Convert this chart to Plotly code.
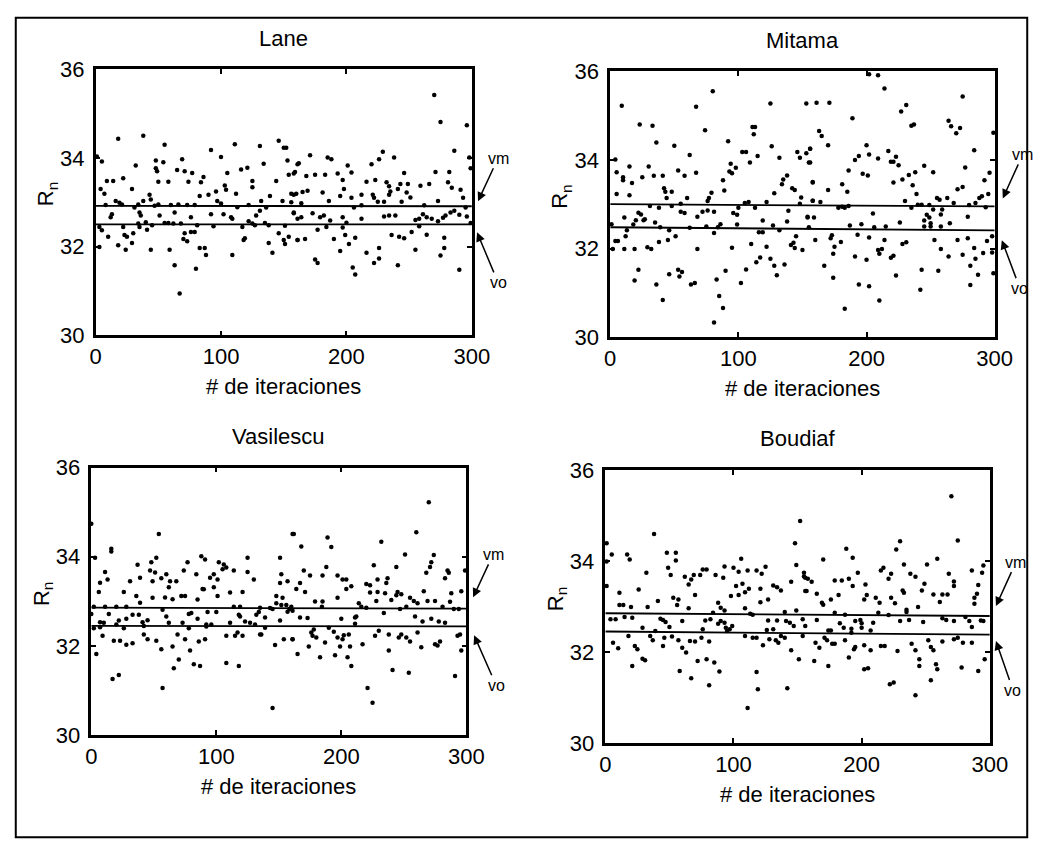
import plotly.graph_objects as go

W, H = 1055, 855
FONT = "Arial, Liberation Sans, sans-serif"

# ---------------- data ----------------
titles = ["Lane", "Mitama", "Vasilescu", "Boudiaf"]
x_ticks = [0, 100, 200, 300]
y_ticks = [30, 32, 34, 36]
x_title = "# de iteraciones"
y_title = "R<sub>n</sub>"
line_labels = ["vm", "vo"]

lane_points = [
    (18,34.43),(38,34.50),(55,34.30),(92,34.18),(111,34.31),(131,34.27),(146,34.39),(150,34.23),(152,34.23),(100,34.02),
    (69,33.97),(48,33.94),(54,33.90),(5,33.92),(1,34.03),(32,33.83),(134,33.87),(153,33.94),(161,33.86),(48,33.77),
    (49,33.70),(65,33.73),(71,33.70),(77,33.66),(116,33.74),(121,33.78),(105,33.66),(159,33.68),(154,33.62),(9,33.48),
    (14,33.48),(22,33.54),(50,33.46),(58,33.46),(74,33.46),(84,33.45),(86,33.57),(125,33.48),(144,33.48),(4,33.30),
    (29,33.30),(103,33.38),(104,33.28),(125,33.34),(7,33.19),(43,33.17),(90,33.17),(96,33.24),(112,33.19),(83,33.14),
    (156,33.19),(160,33.19),(139,33.14),(44,33.06),(16,33.03),(19,32.99),(34,32.95),(38,33.03),(50,32.95),(97,33.03),
    (100,32.97),(132,33.03),(149,33.03),(156,33.00),(8,32.94),(21,32.95),(31,32.88),(47,32.92),(60,32.94),(66,32.95),
    (73,32.94),(79,32.94),(113,32.89),(122,32.94),(136,32.88),(13,32.73),(12,32.66),(35,32.77),(36,32.70),(51,32.70),
    (63,32.77),(76,32.66),(92,32.73),(102,32.73),(108,32.66),(109,32.63),(128,32.70),(131,32.81),(158,32.75),(161,32.63),
    (34,32.52),(40,32.55),(55,32.53),(58,32.53),(62,32.52),(68,32.52),(122,32.57),(125,32.52),(135,32.53),(3,32.44),
    (5,32.37),(22,32.44),(35,32.44),(41,32.38),(45,32.48),(81,32.48),(94,32.46),(117,32.44),(127,32.48),(138,32.48),
    (151,32.47),(10,32.22),(23,32.26),(25,32.22),(30,32.30),(18,32.03),(24,31.93),(29,32.08),(71,32.30),(76,32.33),
    (79,32.33),(70,32.17),(73,32.12),(118,32.15),(119,32.19),(3,31.99),(44,31.93),(59,31.93),(83,31.97),(87,31.97),
    (88,31.81),(109,31.81),(138,32.08),(141,31.86),(146,32.30),(150,32.15),(151,32.06),(154,32.22),(161,32.15),(63,31.58),
    (80,31.50),(67,30.94),
    (270,35.42),(275,34.81),(296,34.74),(286,34.16),(298,34.01),(299,33.77),(171,34.06),(162,33.88),(185,34.01),(188,33.97),
    (229,34.14),(226,33.97),(220,33.86),(238,34.01),(201,33.83),(204,33.67),(158,33.65),(168,33.59),(175,33.62),(183,33.62),
    (193,33.65),(197,33.50),(246,33.66),(271,33.68),(282,33.68),(216,33.46),(223,33.50),(232,33.45),(243,33.41),(249,33.41),
    (234,33.36),(241,33.30),(259,33.37),(266,33.41),(281,33.45),(284,33.33),(291,33.28),(158,33.17),(165,33.23),(169,33.26),
    (181,33.22),(198,33.30),(195,33.14),(204,33.10),(212,33.17),(221,33.17),(222,33.10),(234,33.17),(235,33.24),(248,33.22),
    (251,33.11),(273,33.03),(293,33.10),(186,33.03),(164,32.98),(225,33.01),(230,33.01),(244,33.01),(206,32.88),(212,32.93),
    (262,32.93),(295,32.88),(158,32.77),(164,32.66),(173,32.75),(179,32.66),(182,32.70),(187,32.59),(197,32.66),(212,32.63),
    (230,32.68),(234,32.70),(239,32.70),(255,32.60),(258,32.63),(261,32.73),(264,32.66),(268,32.63),(273,32.57),(277,32.65),
    (279,32.70),(283,32.77),(286,32.81),(290,32.72),(296,32.68),(200,32.54),(258,32.46),(299,32.53),(177,32.38),(184,32.44),
    (197,32.43),(161,32.15),(167,32.17),(190,32.17),(199,32.26),(202,32.06),(207,32.20),(236,32.26),(242,32.22),(246,32.19),
    (252,32.33),(264,32.27),(278,32.20),(278,31.97),(275,31.80),(255,31.93),(226,31.97),(226,31.73),(222,31.63),(216,31.86),
    (195,31.90),(175,31.71),(177,31.63),(205,31.53),(207,31.37),(241,31.58),(290,31.48),
]

mitama_points = [
    (80,35.55),(9,35.22),(67,35.20),(125,35.27),(153,35.27),(23,34.80),(33,34.77),(74,34.67),(111,34.74),(113,34.74),
    (112,34.58),(36,34.39),(50,34.32),(92,34.42),(126,34.31),(62,34.11),(4,34.01),(103,34.18),(106,34.18),(115,34.09),
    (132,34.05),(146,34.18),(148,34.05),(156,34.25),(153,34.15),(109,33.94),(155,33.94),(5,33.72),(15,33.85),(10,33.61),
    (10,33.54),(17,33.48),(25,33.61),(30,33.85),(34,33.64),(41,33.64),(53,33.76),(58,33.64),(67,33.71),(94,33.91),
    (93,33.74),(95,33.70),(98,33.82),(88,33.54),(135,33.56),(138,33.65),(134,33.45),(142,33.36),(144,33.32),(158,33.50),
    (5,33.23),(15,33.20),(42,33.36),(43,33.28),(48,33.28),(44,33.14),(60,33.14),(79,33.26),(77,33.14),(89,33.31),
    (76,33.07),(128,33.25),(149,33.15),(158,33.08),(31,32.96),(48,32.96),(55,33.01),(105,33.03),(108,33.05),(122,33.05),
    (148,33.01),(11,32.70),(22,32.81),(24,32.77),(26,32.64),(27,32.66),(20,32.64),(38,32.92),(35,32.59),(55,32.83),
    (58,32.80),(68,32.72),(72,32.83),(76,32.86),(81,32.83),(96,32.80),(99,32.76),(99,32.54),(100,32.92),(113,32.92),
    (119,32.63),(139,32.85),(138,32.61),(154,32.70),(1,32.55),(18,32.54),(39,32.48),(62,32.47),(75,32.50),(86,32.55),
    (84,32.48),(127,32.52),(155,32.48),(13,32.41),(12,32.28),(4,32.17),(6,32.17),(2,31.99),(11,31.99),(19,31.99),
    (29,32.03),(32,31.99),(38,32.15),(45,32.19),(46,32.41),(51,32.28),(68,31.99),(81,32.35),(95,32.02),(110,32.10),
    (116,32.37),(119,32.37),(122,32.04),(125,31.77),(128,31.61),(130,31.40),(136,31.64),(132,32.41),(141,32.08),(143,32.13),
    (145,32.28),(144,32.01),(150,31.97),(114,31.69),(117,31.80),(106,31.53),(102,31.22),(90,31.50),(83,31.30),(85,30.93),
    (88,30.66),(81,30.33),(22,31.52),(19,31.28),(36,31.19),(41,30.84),(46,31.42),(53,31.52),(54,31.37),(56,31.47),
    (63,31.19),(66,31.22),
    (202,35.93),(209,35.91),(214,35.61),(161,35.29),(171,35.29),(275,35.43),(231,35.24),(227,35.09),(189,34.94),(235,34.77),
    (237,34.80),(264,34.88),(266,34.76),(270,34.60),(273,34.72),(163,34.65),(165,34.54),(170,34.33),(200,34.33),(156,34.25),
    (202,34.12),(191,34.00),(194,34.09),(209,34.03),(217,34.20),(219,33.96),(221,33.96),(223,34.07),(225,33.88),(284,34.22),
    (277,33.83),(299,34.61),(156,33.94),(186,33.76),(197,33.69),(201,33.65),(245,33.87),(252,33.72),(238,33.72),(233,33.66),
    (228,33.56),(221,33.49),(236,33.43),(296,33.71),(292,33.54),(158,33.49),(181,33.45),(185,33.28),(170,33.32),(271,33.34),
    (275,33.39),(239,33.23),(295,33.23),(290,33.18),(288,33.14),(255,33.14),(257,33.10),(263,33.14),(158,33.08),(164,33.05),
    (178,32.92),(181,32.94),(183,32.92),(186,32.96),(230,33.07),(235,32.92),(240,32.99),(243,32.99),(249,32.98),(252,32.88),
    (259,32.88),(268,33.03),(280,32.98),(285,33.03),(293,32.93),(154,32.72),(159,32.70),(205,32.79),(247,32.76),(249,32.70),
    (245,32.63),(250,32.57),(258,32.77),(265,32.57),(279,32.72),(226,32.59),(187,32.52),(196,32.55),(206,32.48),(215,32.50),
    (245,32.50),(250,32.50),(258,32.50),(160,32.19),(173,32.30),(172,32.23),(180,32.15),(175,32.04),(174,31.88),(193,32.31),
    (202,32.25),(214,32.19),(209,31.97),(212,31.99),(191,31.82),(200,31.75),(221,31.84),(219,31.79),(228,32.10),(231,32.14),
    (210,31.88),(223,31.39),(210,30.83),(183,30.64),(167,31.61),(174,31.34),(194,31.19),(202,31.15),(243,31.52),(242,31.07),
    (253,32.19),(258,31.99),(264,31.82),(256,31.50),(271,32.19),(279,32.23),(275,31.86),(284,32.01),(285,31.77),(281,31.61),
    (287,31.41),(281,31.18),(291,31.90),(294,32.17),(298,32.28),(298,31.91),(299,31.44),
]

vasilescu_points = [
    (0,34.74),(54,34.51),(161,34.51),(16,34.18),(16,34.12),(3,33.98),(52,33.98),(48,33.88),(88,34.01),(91,33.94),
    (77,33.88),(102,33.88),(106,33.83),(108,33.76),(105,33.72),(125,33.98),(151,33.98),(37,33.82),(11,33.66),(13,33.49),
    (7,33.42),(47,33.69),(51,33.65),(39,33.53),(31,33.45),(49,33.45),(56,33.52),(60,33.61),(63,33.45),(68,33.45),
    (62,33.32),(74,33.69),(84,33.61),(89,33.28),(95,33.53),(98,33.61),(101,33.49),(98,33.32),(114,33.69),(125,33.66),
    (130,33.49),(152,33.61),(151,33.41),(157,33.45),(6,33.21),(26,33.21),(36,33.12),(49,33.08),(59,33.09),(65,33.05),
    (72,33.12),(75,33.12),(85,33.04),(90,33.27),(101,33.12),(111,33.20),(121,33.21),(148,33.12),(153,33.08),(39,32.97),
    (148,32.96),(152,32.92),(156,32.92),(2,32.88),(11,32.88),(20,32.88),(28,32.88),(114,32.88),(119,32.88),(135,32.86),
    (143,32.85),(160,32.88),(0,32.72),(14,32.72),(7,32.53),(10,32.52),(22,32.57),(20,32.48),(28,32.61),(33,32.70),
    (41,32.53),(45,32.58),(38,32.70),(57,32.81),(60,32.66),(62,32.52),(73,32.52),(78,32.72),(80,32.74),(85,32.61),
    (92,32.48),(93,32.76),(100,32.76),(96,32.48),(111,32.52),(119,32.66),(118,32.70),(123,32.55),(127,32.52),(131,32.48),
    (134,32.76),(132,32.70),(139,32.64),(145,32.83),(151,32.57),(157,32.77),(161,32.79),(2,32.40),(7,32.42),(26,32.40),
    (42,32.45),(78,32.40),(92,32.44),(139,32.41),(9,32.23),(18,32.12),(23,32.12),(28,32.03),(33,32.06),(42,32.26),
    (45,32.15),(52,32.12),(56,31.93),(65,31.99),(69,32.26),(75,32.15),(79,31.90),(86,32.10),(91,32.15),(108,32.23),
    (115,32.23),(117,32.30),(121,32.23),(135,32.26),(136,32.26),(147,32.02),(154,32.15),(161,32.15),(4,31.82),(70,31.70),
    (66,31.50),(82,31.59),(87,31.55),(108,31.62),(118,31.55),(17,31.26),(22,31.35),(57,31.06),(145,30.61),
    (270,35.22),(260,34.55),(162,34.51),(189,34.43),(168,34.23),(192,34.22),(232,34.34),(251,34.05),(274,34.04),(226,33.81),
    (244,33.77),(272,33.88),(271,33.77),(268,33.64),(188,33.77),(170,33.69),(175,33.58),(185,33.58),(197,33.58),(201,33.49),
    (204,33.49),(220,33.39),(223,33.36),(229,33.49),(237,33.52),(236,33.41),(285,33.69),(286,33.64),(283,33.52),(167,33.41),
    (164,33.28),(171,33.21),(208,33.34),(204,33.28),(223,33.20),(229,33.21),(235,33.18),(245,33.21),(244,33.14),(240,33.03),
    (248,33.16),(255,33.08),(258,33.01),(266,33.23),(288,33.18),(296,33.23),(299,33.69),(197,33.08),(179,33.00),(185,33.00),
    (158.5,32.83),(184.5,32.88),(214,32.96),(216,32.88),(220,32.86),(228,33.01),(247,32.83),(252,32.88),(261,32.96),(269,33.01),
    (275,33.01),(281,32.88),(287,32.99),(290,32.83),(294,32.83),(167,32.64),(173,32.63),(200,32.61),(211,32.64),(212,32.66),
    (234,32.74),(259,32.66),(272,32.61),(278,32.55),(283,32.52),(265,32.55),(211,32.50),(178,32.37),(161,32.15),(165,31.82),
    (174,31.99),(176,32.30),(177,32.23),(180,32.19),(187,32.08),(190,32.41),(194,32.32),(195,31.79),(197,32.19),(201,32.15),
    (199,31.99),(202,32.24),(206,32.26),(207,31.99),(205,31.75),(183,31.75),(208,31.55),(217,32.04),(227,32.23),(230,32.34),
    (238,32.26),(238,31.90),(246,32.19),(248,32.26),(252,32.19),(255,32.10),(261,32.30),(264,31.97),(275,32.04),(277,32.01),
    (279,32.10),(293,32.23),(295,32.26),(296,31.90),(241,31.46),(254,31.40),(291,31.33),(221,31.06),(225,30.73),
]

boudiaf_points = [
    (152,34.88),(38,34.59),(148,34.39),(1,34.39),(5,34.14),(17,34.14),(19,34.03),(48,34.18),(55,34.18),(55,34.01),
    (49,33.85),(51,33.69),(1,33.99),(32,33.74),(62,33.65),(65,33.48),(67,33.59),(69,33.69),(74,33.69),(76,33.81),
    (79,33.81),(86,33.69),(93,33.88),(92,33.63),(100,33.85),(104,33.76),(106,34.05),(111,33.79),(118,33.79),(122,33.72),
    (125,33.87),(149,33.91),(155,33.74),(156,33.63),(145,33.54),(1,33.45),(11,33.30),(26,33.37),(41,33.12),(53,33.19),
    (57,33.15),(56,33.03),(70,33.25),(88,33.08),(98,33.23),(104,33.25),(102,33.45),(107,33.50),(109,33.31),(112,33.39),
    (121,33.39),(121,33.09),(127,33.15),(131,33.46),(134,33.42),(137,33.35),(156,33.34),(11,33.03),(14,33.03),(20,32.99),
    (33,32.99),(65,32.96),(90,32.97),(93,32.91),(109,32.96),(84,32.86),(113,32.84),(115,32.82),(140,32.88),(149,32.91),
    (4,32.72),(8,32.72),(15,32.77),(21,32.75),(43,32.73),(45,32.70),(47,32.66),(60,32.68),(78,32.69),(82,32.72),
    (88,32.62),(90,32.68),(93,32.64),(94,32.53),(95,32.46),(97,32.50),(99,32.57),(50,32.55),(76,32.50),(29,32.53),
    (39,32.46),(127,32.69),(134,32.69),(131,32.50),(141,32.68),(144,32.64),(147,32.57),(156,32.57),(18,32.35),(35,32.35),
    (37,32.26),(46,32.31),(52,32.34),(109,32.35),(115,32.31),(118,32.31),(137,32.35),(154,32.35),(126,32.48),(6,32.20),
    (10,32.08),(23,32.13),(25,32.06),(29,31.85),(31,31.82),(21,31.69),(45,32.13),(57,32.26),(60,32.09),(63,31.99),
    (66,32.24),(70,32.23),(72,31.80),(75,32.31),(79,31.84),(81,32.23),(85,31.77),(89,31.57),(58,31.58),(67,31.42),
    (81,31.27),(111,30.77),(118,31.56),(119,31.18),(123,32.15),(128,32.28),(133,32.26),(135,32.20),(140,32.31),(145,32.04),
    (142,31.20),(151,31.84),
    (270,35.42),(275,34.45),(230,34.43),(227,34.25),(188,34.27),(193,34.07),(170,34.03),(259,34.05),(295,33.90),(233,33.92),
    (251,33.92),(217,33.85),(215,33.79),(223,33.72),(221,33.61),(238,33.72),(242,33.65),(197,33.74),(190,33.61),(179,33.57),
    (184.5,33.57),(193,33.45),(155,33.66),(158,33.61),(161,33.54),(268,33.72),(286,33.79),(294,33.74),(249,33.50),(247,33.35),
    (232,33.35),(233,33.30),(203,33.48),(204,33.25),(202,33.15),(211,33.19),(214,33.08),(223,33.19),(226,33.07),(256,33.26),
    (263,33.26),(261,33.10),(267,33.26),(272,33.45),(272,33.55),(291,33.47),(290,33.28),(288,33.19),(288,33.06),(157,33.34),
    (165,33.28),(176,33.15),(182,33.25),(169,33.08),(170,33.04),(244,32.99),(235,32.93),(235,32.88),(179,32.86),(187,32.82),
    (213,32.86),(221,32.81),(263,32.74),(281,32.77),(154,32.72),(165,32.70),(183,32.63),(186,32.53),(192,32.51),(195,32.68),
    (199,32.70),(200,32.63),(200,32.53),(207,32.47),(209,32.64),(230,32.68),(237,32.70),(248,32.66),(266,32.70),(272,32.68),
    (284,32.68),(293,32.69),(295,32.68),(286,32.55),(174,32.47),(176,32.47),(192,32.42),(275,32.31),(164,32.20),(167,32.09),
    (171,32.31),(173,32.26),(177,32.18),(179,32.18),(187,32.26),(194,32.06),(195,32.11),(202,32.15),(207,32.04),(215,32.13),
    (218,32.13),(228,32.02),(239,32.18),(242,32.04),(245,31.84),(245,31.69),(252,32.26),(254,32.11),(256,32.04),(258,31.73),
    (259,31.62),(263,32.23),(272,32.28),(279,32.20),(286,32.20),(278,31.66),(291,31.58),(296,31.84),(163,31.80),(174,31.69),
    (190,31.88),(202,31.62),(205,31.64),(222,31.29),(225,31.33),(254,31.38),(242,31.05),
]

# reference lines (value at x=0 and at x=300)
vm_lines = [(32.92, 32.91), (33.00, 32.95), (32.86, 32.84), (32.85, 32.79)]
vo_lines = [(32.50, 32.50), (32.48, 32.41), (32.45, 32.44), (32.45, 32.38)]
line_x = [0, 300]

# ---------------- layout geometry (pixels) ----------------
boxes = [  # left, right, top, bottom
    (91.7, 476.7, 59, 333),
    (618.3, 1011.7, 61, 335),
    (87.3, 471.0, 469.3, 745),
    (613.3, 1006.7, 471.7, 753),
]
# label arrows: (head_x, head_y, text_x, text_y) in page pixels
arrow_px = [
    [(483, 195, 503, 152), (482, 227, 503, 277)],
    [(1020, 192, 1040, 148), (1019, 235, 1037, 283)],
    [(478, 603, 498, 560), (479, 642, 501, 692)],
    [(1013, 612, 1033, 568), (1013, 648, 1030, 697)],
]

all_points = [lane_points, mitama_points, vasilescu_points, boudiaf_points]

fig = go.Figure()
annotations = []
layout_axes = {}

for i, (pts, box) in enumerate(zip(all_points, boxes)):
    n = "" if i == 0 else str(i + 1)
    xa, ya = "x" + n, "y" + n
    L, R, T, B = box
    xs = [p[0] for p in pts]
    ys = [p[1] for p in pts]
    fig.add_trace(go.Scatter(x=xs, y=ys, mode="markers", xaxis=xa, yaxis=ya,
                             marker=dict(color="black", size=4.5, line=dict(width=0)),
                             showlegend=False, cliponaxis=False))
    for vals in (vm_lines[i], vo_lines[i]):
        fig.add_trace(go.Scatter(x=line_x, y=list(vals), mode="lines", xaxis=xa, yaxis=ya,
                                 line=dict(color="black", width=1.8), showlegend=False))
    common = dict(showline=True, linewidth=2.5, linecolor="black", mirror="ticks",
                  ticks="inside", ticklen=5, tickwidth=2, tickcolor="black",
                  showgrid=False, zeroline=False,
                  tickfont=dict(family=FONT, size=22, color="black"))
    layout_axes["xaxis" + n] = dict(common, domain=[L / W, R / W], range=[0, 300],
                                    tickvals=x_ticks, anchor=ya, ticklabelstandoff=0)
    layout_axes["yaxis" + n] = dict(common, domain=[1 - B / H, 1 - T / H], range=[30, 36],
                                    tickvals=y_ticks, anchor=xa, ticklabelstandoff=4)
    cx = (L + R) / 2
    annotations.append(dict(text=titles[i], x=cx / W, y=1 - (T - 32) / H, xref="paper", yref="paper",
                            showarrow=False, xanchor="center", yanchor="middle",
                            font=dict(family=FONT, size=22, color="black")))
    annotations.append(dict(text=x_title, x=cx / W, y=1 - (B + 53) / H, xref="paper", yref="paper",
                            showarrow=False, xanchor="center", yanchor="middle",
                            font=dict(family=FONT, size=22, color="black")))
    annotations.append(dict(text=y_title, x=(L - 50) / W, y=1 - ((T + B) / 2 - 8) / H,
                            xref="paper", yref="paper", textangle=-90,
                            showarrow=False, xanchor="center", yanchor="middle",
                            font=dict(family=FONT, size=22, color="black")))
    for label, (hx, hy, tx, ty) in zip(line_labels, arrow_px[i]):
        annotations.append(dict(text=label, x=hx / W, y=1 - hy / H, xref="paper", yref="paper",
                                ax=tx - hx, ay=ty - hy,
                                showarrow=True, arrowhead=2, arrowsize=1.2, arrowwidth=1.5,
                                arrowcolor="black", standoff=0,
                                font=dict(family=FONT, size=16, color="black")))

fig.update_layout(
    width=W, height=H, margin=dict(l=0, r=0, t=0, b=0),
    paper_bgcolor="white", plot_bgcolor="white",
    annotations=annotations,
    shapes=[dict(type="rect", xref="paper", yref="paper",
                 x0=10 / W, x1=1045 / W, y0=1 - 850 / H, y1=1 - 6 / H,
                 line=dict(color="black", width=2))],
    **layout_axes,
)

fig.write_html("out.html")
